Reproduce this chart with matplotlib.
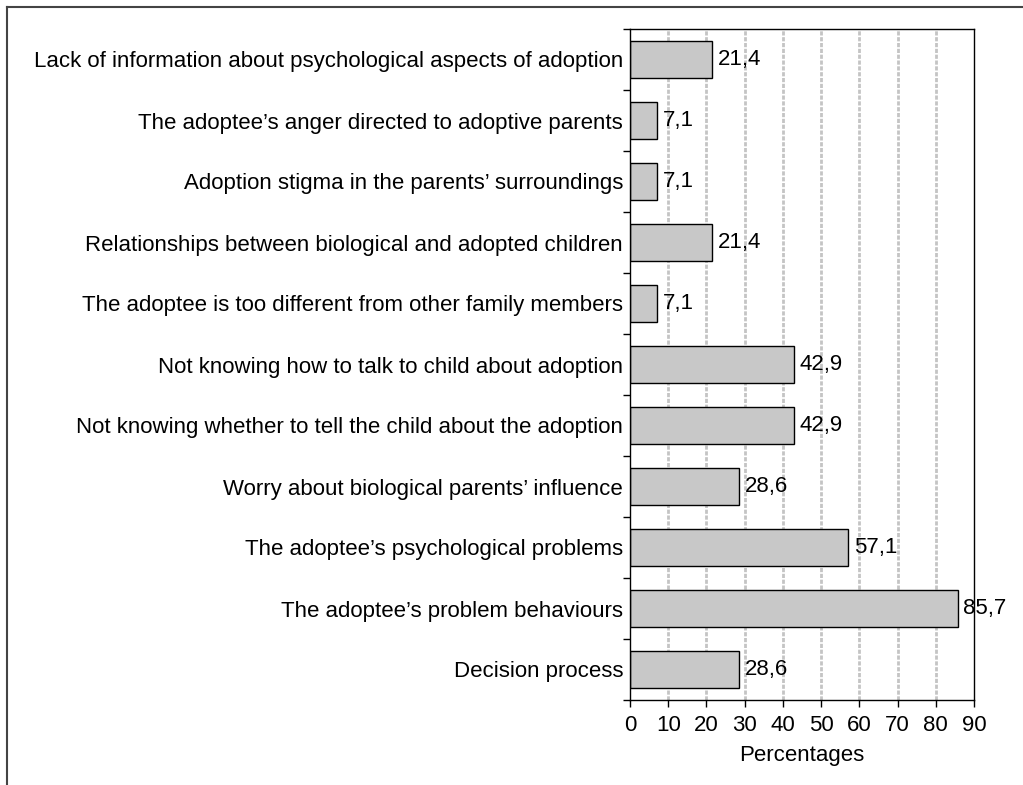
import matplotlib.pyplot as plt
from matplotlib.lines import Line2D

plt.rcParams['font.family'] = ['Liberation Sans', 'DejaVu Sans']

# Categories listed from top to bottom
categories = [
    "Lack of information about psychological aspects of adoption",
    "The adoptee\u2019s anger directed to adoptive parents",
    "Adoption stigma in the parents\u2019 surroundings",
    "Relationships between biological and adopted children",
    "The adoptee is too different from other family members",
    "Not knowing how to talk to child about adoption",
    "Not knowing whether to tell the child about the adoption",
    "Worry about biological parents\u2019 influence",
    "The adoptee\u2019s psychological problems",
    "The adoptee\u2019s problem behaviours",
    "Decision process",
]
values = [21.4, 7.1, 7.1, 21.4, 7.1, 42.9, 42.9, 28.6, 57.1, 85.7, 28.6]
xticks = [0, 10, 20, 30, 40, 50, 60, 70, 80, 90]

FS = 16

fig = plt.figure(figsize=(10.23, 7.85), dpi=100)
ax = fig.add_axes([630 / 1023, 1 - 700 / 785, 344 / 1023, 671 / 785])

n = len(categories)
ypos = list(range(n - 1, -1, -1))

ax.set_axisbelow(True)
for x in xticks[1:-1]:
    ax.axvline(x, color='#c4c4c4', linewidth=2.0, linestyle=(0, (1.5, 0.6)), zorder=0)

ax.barh(ypos, values, height=0.61, color='#c8c8c8', edgecolor='black', linewidth=1.0, zorder=2)

for y, v in zip(ypos, values):
    ax.text(v + 1.5, y, f"{v:.1f}".replace('.', ','), va='center', ha='left', fontsize=FS, zorder=3)

ax.set_xlim(0, 90)
ax.set_ylim(-0.5, n - 0.5)
ax.set_xticks(xticks)
ax.set_xticklabels([str(t) for t in xticks], fontsize=FS)
ax.set_yticks(ypos)
ax.set_yticklabels(categories, fontsize=FS)
ax.tick_params(axis='y', which='major', length=0, pad=5)
ax.set_yticks([i - 0.5 for i in range(n + 1)], minor=True)
ax.tick_params(axis='y', which='minor', length=5, width=1, direction='out')
ax.tick_params(axis='x', length=5, width=1, direction='out', pad=6)
ax.set_xlabel("Percentages", fontsize=FS, labelpad=6)

for s in ax.spines.values():
    s.set_linewidth(1.0)

# outer frame (top and left only)
fig.add_artist(Line2D([7 / 1023, 1.0], [1 - 6.5 / 785, 1 - 6.5 / 785], color='#444444', linewidth=1.5))
fig.add_artist(Line2D([7 / 1023, 7 / 1023], [0.0, 1 - 6.5 / 785], color='#444444', linewidth=1.5))

fig.savefig('out.png', dpi=100)
